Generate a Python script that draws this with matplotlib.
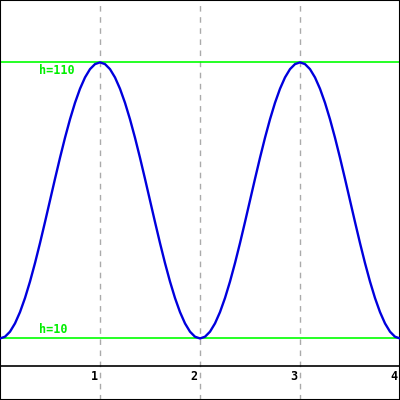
import matplotlib
matplotlib.use('Agg')
import matplotlib.pyplot as plt

# curve samples (x step 0.05 from 0 to 4)
x = [i * 0.05 for i in range(81)]
h = [10.0, 10.62, 12.45, 15.45, 19.55, 24.64, 30.61, 37.30, 44.55, 52.18,
     60.0, 67.82, 75.45, 82.70, 89.39, 95.36, 100.45, 104.55, 107.55, 109.38,
     110.0, 109.38, 107.55, 104.55, 100.45, 95.36, 89.39, 82.70, 75.45, 67.82,
     60.0, 52.18, 44.55, 37.30, 30.61, 24.64, 19.55, 15.45, 12.45, 10.62,
     10.0, 10.62, 12.45, 15.45, 19.55, 24.64, 30.61, 37.30, 44.55, 52.18,
     60.0, 67.82, 75.45, 82.70, 89.39, 95.36, 100.45, 104.55, 107.55, 109.38,
     110.0, 109.38, 107.55, 104.55, 100.45, 95.36, 89.39, 82.70, 75.45, 67.82,
     60.0, 52.18, 44.55, 37.30, 30.61, 24.64, 19.55, 15.45, 12.45, 10.62,
     10.0]
levels = [110, 10]
level_labels = ['h=110', 'h=10']
xticks = [1, 2, 3, 4]
xtick_labels = ['1', '2', '3', '4']

fig = plt.figure(figsize=(4, 4), dpi=100)
ax = fig.add_axes([0, 0, 1, 1])
ax.set_xlim(0, 4)
ax.set_ylim(-12.3, 132.6)
ax.set_xticks([])
ax.set_yticks([])
for s in ax.spines.values():
    s.set_color('black')
    s.set_linewidth(1.5)

for t in xticks[:-1]:
    ax.axvline(t, color='#aaaaaa', lw=1, ls=(0, (4, 4)), zorder=1)

ax.axhline(0, color='black', lw=1.2, zorder=2)

for lv in levels:
    ax.axhline(lv, color='#00ff00', lw=1.2, zorder=2)

ax.plot(x, h, color='#0000dd', lw=1.7, zorder=3)

font = dict(family='DejaVu Sans Mono', weight='bold', size=8.5)
ax.text(0.39, 109.3, level_labels[0], color='#00ee00', ha='left', va='top', **font)
ax.text(0.39, 10.8, level_labels[1], color='#00ee00', ha='left', va='bottom', **font)

for t, lab in zip(xticks, xtick_labels):
    ax.text(t - 0.025, -1.3, lab, color='black', ha='right', va='top', **font)

fig.savefig('out.png', dpi=100)
